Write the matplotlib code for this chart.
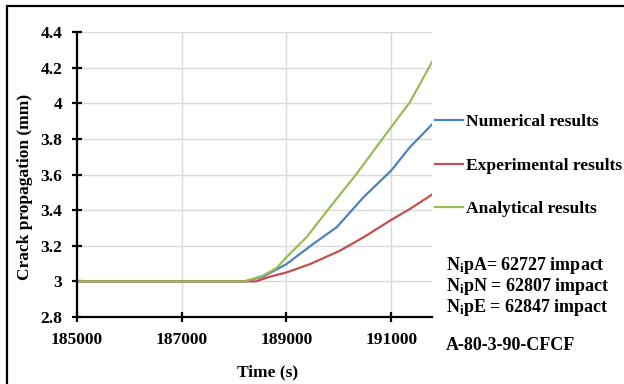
import matplotlib
matplotlib.use("Agg")
import matplotlib.pyplot as plt
from matplotlib.patches import Rectangle

plt.rcParams["font.family"] = ["Liberation Serif", "DejaVu Serif"]
plt.rcParams["font.weight"] = "bold"
plt.rcParams["mathtext.fontset"] = "custom"
plt.rcParams["mathtext.rm"] = "Liberation Serif:bold"
plt.rcParams["mathtext.bf"] = "Liberation Serif:bold"
plt.rcParams["mathtext.it"] = "Liberation Serif:bold"

# Crack length vs. time for specimen A-80-3-90-CFCF
t_num = [185000, 188200, 188550, 189000, 189510, 189960, 190470, 191000, 191360, 191780]
numerical = [3.0, 3.0, 3.026, 3.097, 3.21, 3.304, 3.472, 3.622, 3.754, 3.881]

t_exp = [185000, 188420, 188680, 189000, 189450, 190020, 190470, 191000, 191360, 191780]
experimental = [3.0, 3.0, 3.026, 3.05, 3.097, 3.172, 3.247, 3.345, 3.407, 3.487]

t_ana = [185000, 188200, 188550, 188810, 189000, 189380, 189830, 190340, 191000, 191360, 191780]
analytical = [3.0, 3.0, 3.032, 3.075, 3.135, 3.247, 3.416, 3.604, 3.866, 4.007, 4.232]

x_ticks = [185000, 187000, 189000, 191000]
y_ticks = [2.8, 3.0, 3.2, 3.4, 3.6, 3.8, 4.0, 4.2, 4.4]
y_tick_labels = ["2.8", "3", "3.2", "3.4", "3.6", "3.8", "4", "4.2", "4.4"]

notes = [r"N$_\mathbf{i}$pA= 62727 impact",
         r"N$_\mathbf{i}$pN = 62807 impact",
         r"N$_\mathbf{i}$pE = 62847 impact"]
specimen = "A-80-3-90-CFCF"

W, H = 624, 384
fig = plt.figure(figsize=(W / 100, H / 100), dpi=100)
ax = fig.add_axes([77 / W, 1 - 317 / H, (432 - 77) / W, (317 - 32) / H])

blue, red, green = "#4F81BD", "#C0504D", "#9BBB59"
ax.plot(t_num, numerical, color=blue, lw=1.6, label="Numerical results")
ax.plot(t_exp, experimental, color=red, lw=1.6, label="Experimental results")
ax.plot(t_ana, analytical, color=green, lw=1.6, label="Analytical results")

ax.set_xlim(185000, 191780)
ax.set_ylim(2.8, 4.4)
ax.set_xticks(x_ticks)
ax.set_xticklabels([str(v) for v in x_ticks])
ax.set_yticks(y_ticks)
ax.set_yticklabels(y_tick_labels)
ax.grid(True, color="#d9d9d9", lw=1.0)
ax.set_axisbelow(True)

for s in ("top", "right"):
    ax.spines[s].set_visible(False)
for s in ("left", "bottom"):
    ax.spines[s].set_linewidth(1.6)
    ax.spines[s].set_color("black")
ax.tick_params(direction="inout", length=7, width=1.6, labelsize=12.5, pad=7)

fig.text(268 / W, 1 - 372 / H, "Time (s)", ha="center", va="center", fontsize=12.5)
fig.text(25 / W, 1 - 187 / H, "Crack propagation (mm)", rotation=90,
         ha="center", va="center", fontsize=12.5)

ax.legend(loc="center left", bbox_to_anchor=(435 / W, 1 - 165.5 / H),
          bbox_transform=fig.transFigure, frameon=False, fontsize=12.6,
          borderaxespad=0, borderpad=0, handlelength=1.6, handletextpad=0.2,
          labelspacing=1.55)

for i, txt in enumerate(notes):
    fig.text(446 / W, 1 - (265 + 21.5 * i) / H, txt, ha="left", va="center", fontsize=13)
fig.text(446 / W, 1 - 346 / H, specimen, ha="left", va="center", fontsize=13)

fig.patches.append(Rectangle((7 / W, -0.2), 1.2, 0.2 + 1 - 6 / H, transform=fig.transFigure,
                             fill=False, edgecolor="black", lw=1.6, clip_on=False))

fig.savefig("out.png", dpi=100)
